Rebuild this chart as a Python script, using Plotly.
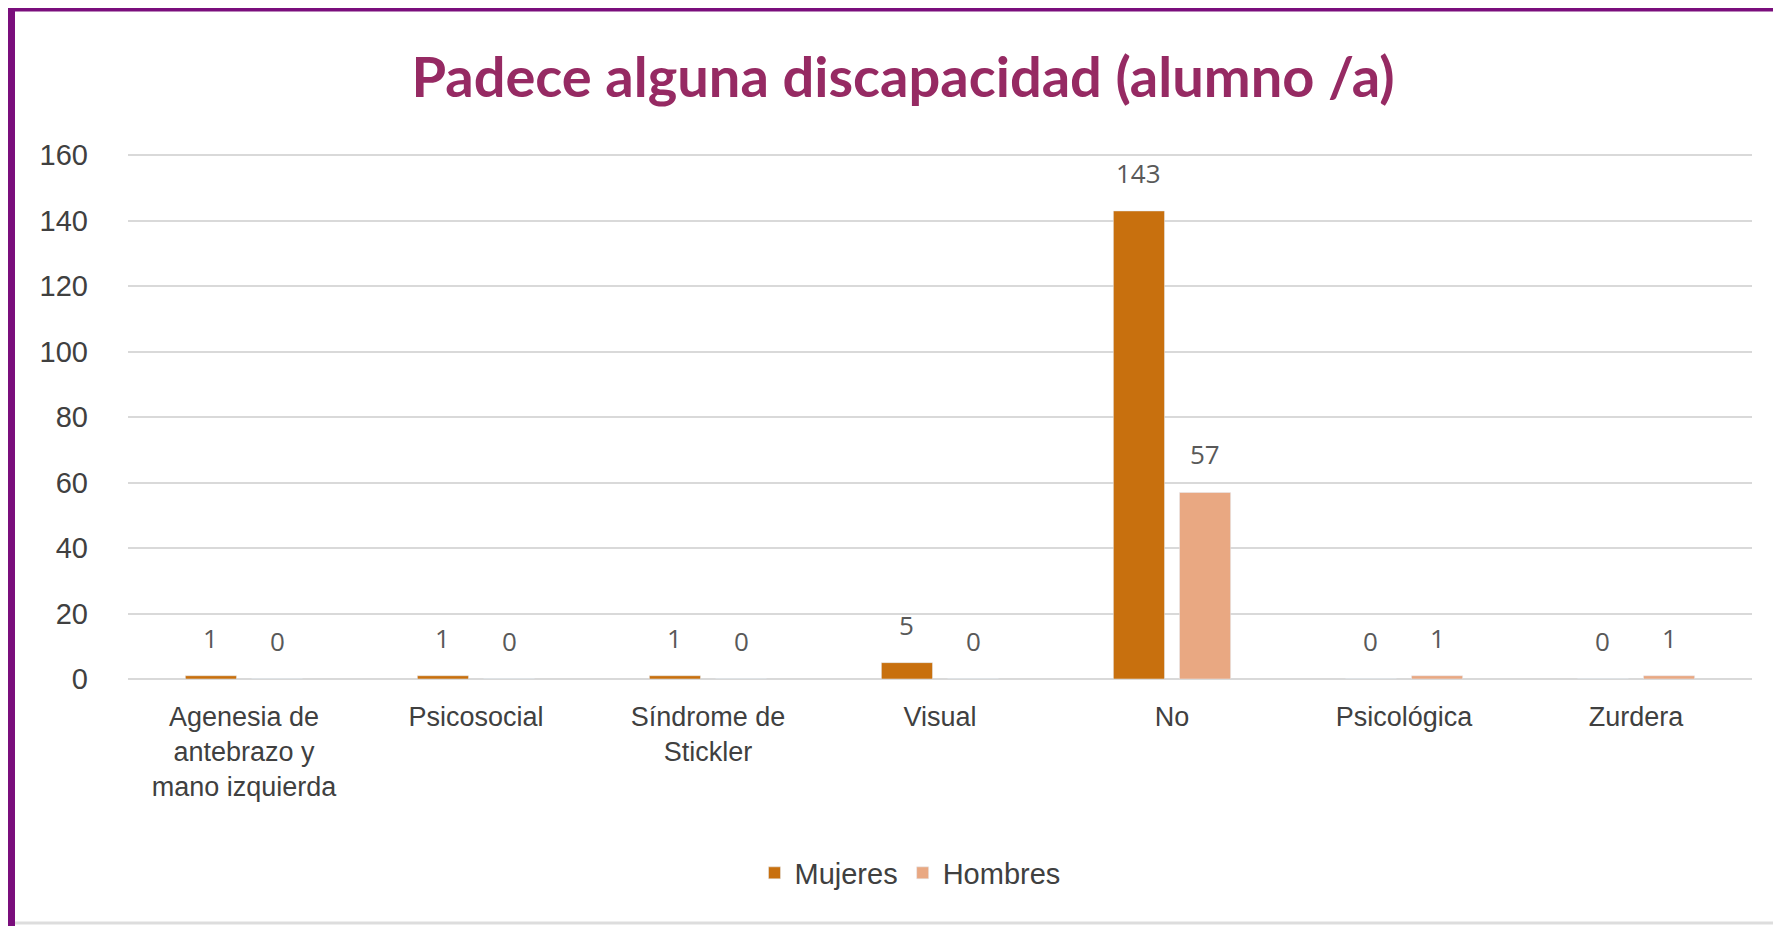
import plotly.graph_objects as go

# data
categorias = [
    "Agenesia de<br>antebrazo y<br>mano izquierda",
    "Psicosocial",
    "Síndrome de<br>Stickler",
    "Visual",
    "No",
    "Psicológica",
    "Zurdera",
]
mujeres = [1, 1, 1, 5, 143, 0, 0]
hombres = [0, 0, 0, 0, 57, 1, 1]
y_ticks = [0, 20, 40, 60, 80, 100, 120, 140, 160]

# page geometry (the html body adds an 8px margin)
OFF = 8
W, H = 1781 - OFF, 926 - OFF
PLOT_L, PLOT_R, PLOT_T, PLOT_B = 128, 1752, 154, 679  # page pixels
ML, MT = PLOT_L - OFF, PLOT_T - OFF
MR, MB = W - (PLOT_R - OFF), H - (PLOT_B - OFF)
PW, PH = W - ML - MR, H - MT - MB

def px_x(x):
    return (x - OFF - ML) / PW

def px_y(y):
    return (H - MB - (y - OFF)) / PH

BARGAP = 0.43
cat_px = PW / len(categorias)
shift = (1 - BARGAP) * cat_px / 4

label_font = dict(family="Open Sans", size=26, color="#595959")

fig = go.Figure()
fig.add_trace(go.Bar(
    x=categorias, y=mujeres, name="Mujeres",
    marker=dict(color="#C8700E"),
))
fig.add_trace(go.Bar(
    x=categorias, y=hombres, name="Hombres",
    marker=dict(color="#E9A882"),
))

# data labels above each bar
for serie, dx in ((mujeres, -shift), (hombres, shift)):
    for cat, v in zip(categorias, serie):
        fig.add_annotation(
            x=cat, y=v, text=str(v), showarrow=False,
            xshift=dx, yshift=18, yanchor="bottom",
            font=label_font,
        )

# frame lines (purple left/top, light gray bottom)
purple = "#7A0E7C"
fig.add_shape(type="line", xref="paper", yref="paper",
              x0=px_x(11.5), x1=px_x(11.5), y0=px_y(8), y1=px_y(926),
              line=dict(color=purple, width=7))
fig.add_shape(type="line", xref="paper", yref="paper",
              x0=px_x(8), x1=px_x(1781), y0=px_y(9.5), y1=px_y(9.5),
              line=dict(color=purple, width=4))
fig.add_shape(type="line", xref="paper", yref="paper",
              x0=px_x(15), x1=px_x(1781), y0=px_y(923), y1=px_y(923),
              line=dict(color="#DDDDDD", width=3))

fig.update_layout(
    width=W, height=H,
    margin=dict(l=ML, r=MR, t=MT, b=MB),
    paper_bgcolor="white", plot_bgcolor="white",
    title=dict(
        text="<b>Padece alguna discapacidad (alumno /a)</b>",
        x=(903 - OFF) / W, xanchor="center",
        y=1 - (77 - OFF) / H, yanchor="middle",
        font=dict(family="Lato", size=56, color="#962A63"),
    ),
    barmode="group", bargap=BARGAP, bargroupgap=0.227,
    font=dict(family="Liberation Sans", color="#404040"),
    legend=dict(
        orientation="h", x=px_x(910), xanchor="center",
        y=px_y(873), yanchor="middle",
        font=dict(family="Liberation Sans", size=29, color="#404040"),
        itemwidth=30, tracegroupgap=0,
    ),
    xaxis=dict(
        showgrid=False, ticks="", showline=False,
        tickfont=dict(family="Liberation Sans", size=27, color="#404040"),
        ticklabelstandoff=19,
    ),
    yaxis=dict(
        range=[0, 160.4], tickvals=y_ticks,
        showgrid=True, gridcolor="#D9D9D9", gridwidth=2,
        zeroline=True, zerolinecolor="#D9D9D9", zerolinewidth=2,
        showline=False, ticks="",
        tickfont=dict(family="Liberation Sans", size=29, color="#404040"),
        ticklabelstandoff=39,
    ),
)

fig.write_html("out.html")
